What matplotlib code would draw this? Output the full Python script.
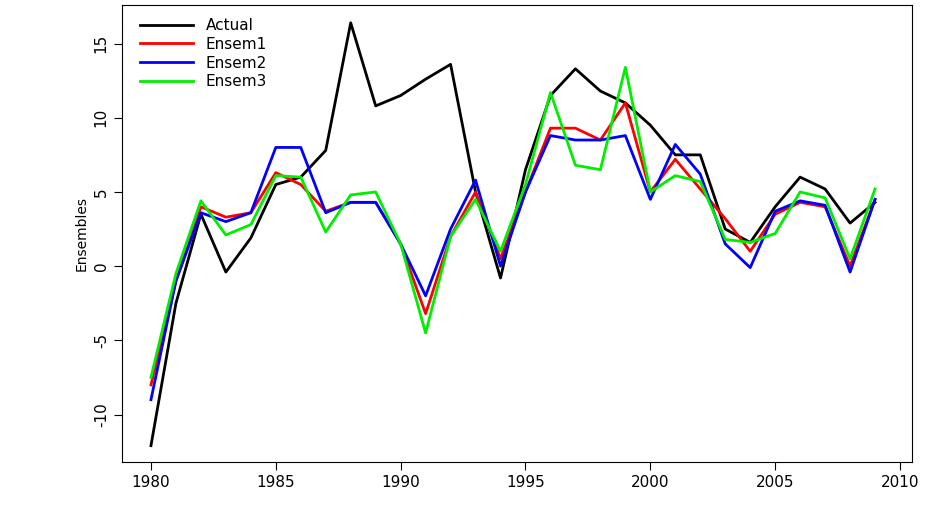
import matplotlib.pyplot as plt

years = list(range(1980, 2010))
actual = [-12.1, -2.5, 3.5, -0.4, 1.9, 5.5, 6.0, 7.8, 16.4, 10.8, 11.5, 12.6, 13.6, 5.0, -0.8,
          6.5, 11.5, 13.3, 11.8, 11.0, 9.5, 7.5, 7.5, 2.5, 1.6, 4.0, 6.0, 5.2, 2.9, 4.3]
ensem1 = [-8.0, -1.0, 4.0, 3.3, 3.6, 6.3, 5.5, 3.7, 4.3, 4.3, 1.5, -3.2, 2.0, 5.0, 0.5,
          5.0, 9.3, 9.3, 8.5, 11.0, 5.0, 7.2, 5.2, 3.2, 1.0, 3.5, 4.3, 4.0, 0.0, 4.5]
ensem2 = [-9.0, -1.0, 3.6, 3.0, 3.6, 8.0, 8.0, 3.6, 4.3, 4.3, 1.5, -2.0, 2.5, 5.8, 0.0,
          5.0, 8.8, 8.5, 8.5, 8.8, 4.5, 8.2, 6.2, 1.5, -0.1, 3.7, 4.4, 4.1, -0.4, 4.5]
ensem3 = [-7.5, -0.5, 4.4, 2.1, 2.8, 6.1, 6.0, 2.3, 4.8, 5.0, 1.5, -4.5, 2.0, 4.5, 1.0,
          5.5, 11.7, 6.8, 6.5, 13.4, 5.0, 6.1, 5.7, 1.8, 1.6, 2.2, 5.0, 4.6, 0.5, 5.2]

fig = plt.figure(figsize=(9.29, 5.08), dpi=100)
ax = fig.add_axes([122/929, 1-462/508, 790/929, 457/508])
ax.plot(years, actual, color='black', lw=2, label='Actual')
ax.plot(years, ensem1, color='red', lw=2, label='Ensem1')
ax.plot(years, ensem2, color='blue', lw=2, label='Ensem2')
ax.plot(years, ensem3, color='#00ee00', lw=2, label='Ensem3')

ax.set_xlim(1978.84, 2010.48)
ax.set_ylim(-13.2, 17.6)
ax.set_xticks(range(1980, 2011, 5))
ax.set_yticks([-10, -5, 0, 5, 10, 15])
ax.set_yticklabels(['-10', '-5', '0', '5', '10', '15'], rotation=90, va='center')
ax.tick_params(labelsize=11, length=6)
ax.set_ylabel('Ensembles', fontsize=10)
ax.legend(loc='upper left', frameon=False, fontsize=11, handlelength=3.5,
          borderaxespad=0.0, labelspacing=0.25, bbox_to_anchor=(0.015, 0.985))
fig.savefig('out.png')
